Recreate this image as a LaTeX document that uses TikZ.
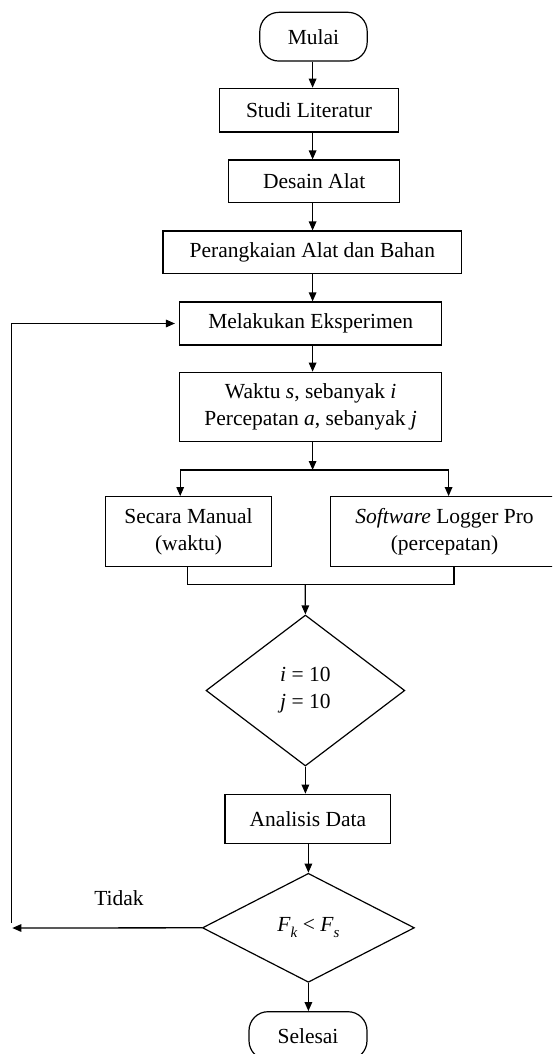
\documentclass[tikz,border=0pt]{standalone}
\usepackage{fontspec}
\setmainfont{Liberation Serif}
\usetikzlibrary{arrows.meta,shapes.geometric}
\newcommand{\mysub}[1]{\raisebox{-0.28em}{\fontsize{15}{15}\selectfont\textit{#1}}}
\tikzset{
  base/.style={draw=black, line width=1.2pt, inner sep=0pt, align=center,
    font=\fontsize{21.5}{27}\selectfont, text=black},
  box/.style={base, rectangle},
  term/.style={base, rectangle, rounded corners=19pt},
  decision/.style={base, diamond},
  arr/.style={line width=1.3pt, -{Triangle[length=9pt,width=7.5pt]}},
  ln/.style={line width=1.3pt},
  lbl/.style={font=\fontsize{21.5}{27}\selectfont, inner sep=0pt}
}
\begin{document}
\begin{tikzpicture}[x=1pt,y=-1pt]
\useasboundingbox (0,0) rectangle (552,1054);
\clip (0,0) rectangle (552,1054);

\node[term, minimum width=107.4pt, minimum height=48.7pt] (mulai) at (313.5,36.7) {Mulai};
\node[box, minimum width=178.5pt, minimum height=43.7pt] (studi) at (309,110.2) {Studi Literatur};
\node[box, minimum width=170.8pt, minimum height=42.3pt] (desain) at (314.2,181.2) {Desain Alat};
\node[box, minimum width=298.5pt, minimum height=42.3pt] (rangkai) at (312.3,252.2) {Perangkaian Alat dan Bahan};
\node[box, minimum width=262.3pt, minimum height=43pt] (eksp) at (310.7,323.5) {Melakukan Eksperimen};
\node[box, minimum width=262.3pt, minimum height=69.4pt] (waktu) at (310.7,407) {Waktu \textit{s}, sebanyak \textit{i}\\Percepatan \textit{a}, sebanyak \textit{j}};
\node[box, minimum width=165.8pt, minimum height=70pt] (manual) at (188.5,531.7) {Secara Manual\\(waktu)};
\node[box, minimum width=228.6pt, minimum height=70pt] (soft) at (444.5,531.7) {\textit{Software} Logger Pro\\(percepatan)};
\node[decision, minimum width=198.8pt, minimum height=151pt] (d1) at (305.4,690.5) {\textit{i} = 10\\\textit{j} = 10};
\node[box, minimum width=165.8pt, minimum height=49.4pt] (analisis) at (307.9,819) {Analisis Data};
\node[decision, minimum width=212pt, minimum height=109pt] (d2) at (308.4,927.8) {\textit{F}\mysub{k} < \textit{F}\mysub{s}};
\node[term, minimum width=118pt, minimum height=48pt] (selesai) at (308,1035.7) {Selesai};
\node[lbl] (tidak) at (119,898.5) {Tidak};

\coordinate (ax) at (312.6,0);
\coordinate (sp) at (312.6,470);
\coordinate (dl) at (180.2,0);
\coordinate (dr) at (448.6,0);
\coordinate (ml) at (187.3,0);
\coordinate (mr) at (454.1,0);
\coordinate (mj) at (305.2,584.3);
\coordinate (la) at (12.3,928);
\coordinate (lb) at (11.7,923);

\draw[arr] (ax |- mulai.south) -- (ax |- studi.north);
\draw[arr] (ax |- studi.south) -- (ax |- desain.north);
\draw[arr] (ax |- desain.south) -- (ax |- rangkai.north);
\draw[arr] (ax |- rangkai.south) -- (ax |- eksp.north);
\draw[arr] (ax |- eksp.south) -- (ax |- waktu.north);
\draw[arr] (ax |- waktu.south) -- (sp);
\draw[arr] (sp) -| (dl |- manual.north);
\draw[arr] (sp) -| (dr |- soft.north);
\draw[ln] (ml |- manual.south) |- (mj) -| (mr |- soft.south);
\draw[arr] (mj) -- (d1.north);
\draw[arr] (d1.south) -- (d1.south |- analisis.north);
\draw[arr] (d2.north |- analisis.south) -- (d2.north);
\draw[arr] (d2.south) -- (d2.south |- selesai.north);
\draw[arr] (d2.west) -- (la);
\draw[arr, shorten >=4pt] (lb) |- (eksp.west);
\end{tikzpicture}
\end{document}
